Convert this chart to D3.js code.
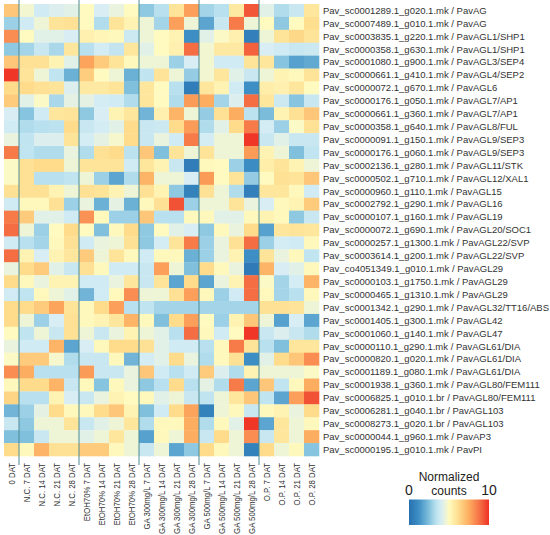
<!DOCTYPE html>
<html>
<head>
<meta charset="utf-8">
<script src="https://cdn.jsdelivr.net/npm/d3@7"></script>
<style>
  body { margin: 0; background: #fff; }
</style>
</head>
<body>
<div id="heatmap"></div>
<script>
var svgWidth = 550;
var svgHeight = 535;

// column labels (treatments)
var samples = ["0 DAT",
  "N.C. 7 DAT", "N.C. 14 DAT", "N.C. 21 DAT", "N.C. 28 DAT",
  "EtOH70% 7 DAT", "EtOH70% 14 DAT", "EtOH70% 21 DAT", "EtOH70% 28 DAT",
  "GA 300mg/L 7 DAT", "GA 300mg/L 14 DAT", "GA 300mg/L 21 DAT", "GA 300mg/L 28 DAT",
  "GA 500mg/L 7 DAT", "GA 500mg/L 14 DAT", "GA 500mg/L 21 DAT", "GA 500mg/L 28 DAT",
  "O.P. 7 DAT", "O.P. 14 DAT", "O.P. 21 DAT", "O.P. 28 DAT"];

// row labels (genes)
var genes = [
  "Pav_sc0001289.1_g020.1.mk / PavAG",
  "Pav_sc0007489.1_g010.1.mk / PavAG",
  "Pav_sc0003835.1_g220.1.mk / PavAGL1/SHP1",
  "Pav_sc0000358.1_g630.1.mk / PavAGL1/SHP1",
  "Pav_sc0001080.1_g900.1.mk / PavAGL3/SEP4",
  "Pav_sc0000661.1_g410.1.mk / PavAGL4/SEP2",
  "Pav_sc0000072.1_g670.1.mk / PavAGL6",
  "Pav_sc0000176.1_g050.1.mk / PavAGL7/AP1",
  "Pav_sc0000661.1_g360.1.mk / PavAGL7/AP1",
  "Pav_sc0000358.1_g640.1.mk / PavAGL8/FUL",
  "Pav_sc0000091.1_g150.1.mk / PavAGL9/SEP3",
  "Pav_sc0000176.1_g060.1.mk / PavAGL9/SEP3",
  "Pav_sc0002136.1_g280.1.mk / PavAGL11/STK",
  "Pav_sc0000502.1_g710.1.mk / PavAGL12/XAL1",
  "Pav_sc0000960.1_g110.1.mk / PavAGL15",
  "Pav_sc0002792.1_g290.1.mk / PavAGL16",
  "Pav_sc0000107.1_g160.1.mk / PavAGL19",
  "Pav_sc0000072.1_g690.1.mk / PavAGL20/SOC1",
  "Pav_sc0000257.1_g1300.1.mk / PavAGL22/SVP",
  "Pav_sc0003614.1_g200.1.mk / PavAGL22/SVP",
  "Pav_co4051349.1_g010.1.mk / PavAGL29",
  "Pav_sc0000103.1_g1750.1.mk / PavAGL29",
  "Pav_sc0000465.1_g1310.1.mk / PavAGL29",
  "Pav_sc0001342.1_g290.1.mk / PavAGL32/TT16/ABS",
  "Pav_sc0001405.1_g300.1.mk / PavAGL42",
  "Pav_sc0001060.1_g140.1.mk / PavAGL47",
  "Pav_sc0000110.1_g290.1.mk / PavAGL61/DIA",
  "Pav_sc0000820.1_g020.1.mk / PavAGL61/DIA",
  "Pav_sc0001189.1_g080.1.mk / PavAGL61/DIA",
  "Pav_sc0001938.1_g360.1.mk / PavAGL80/FEM111",
  "Pav_sc0006825.1_g010.1.br / PavAGL80/FEM111",
  "Pav_sc0006281.1_g040.1.br / PavAGL103",
  "Pav_sc0008273.1_g020.1.br / PavAGL103",
  "Pav_sc0000044.1_g960.1.mk / PavAP3",
  "Pav_sc0000195.1_g010.1.mk / PavPI"];

// normalized counts, one row per gene, one value per sample
var counts = [
  [6.8,4.7,3.9,4.2,4.3, 5.0,4.1,4.5,5.0, 2.7,3.3,5.9,7.8, 3.0,3.3,5.7,9.3, 4.3,3.2,3.7,5.8],
  [2.9,3.9,4.6,5.9,6.0, 5.0,3.2,5.9,5.3, 4.6,3.0,7.8,4.6, 1.8,3.7,8.6,4.6, 5.0,2.7,5.0,6.1],
  [8.2,5.0,4.3,4.3,4.1, 5.4,5.2,5.1,3.8, 4.6,5.0,5.3,1.2, 4.3,4.9,5.4,0.6, 4.6,5.9,6.3,5.9],
  [2.7,3.0,3.7,3.1,5.8, 3.3,4.0,3.6,5.8, 4.3,5.0,5.4,8.9, 4.7,5.7,5.7,9.1, 4.1,3.9,3.7,3.8],
  [6.8,6.0,6.0,5.3,4.3, 7.7,6.7,5.9,5.1, 4.6,4.6,2.9,4.1, 4.7,3.9,3.9,5.9, 5.8,2.6,1.7,1.9],
  [9.9,5.9,4.6,3.5,2.1, 6.6,5.0,4.6,2.1, 3.5,5.9,4.6,2.8, 4.7,5.8,4.3,3.7, 4.6,5.3,5.1,5.9],
  [6.2,6.2,6.0,5.9,4.2, 5.7,5.7,5.9,2.5, 5.8,5.0,3.3,0.5, 5.8,5.3,3.9,1.2, 5.5,5.4,5.8,5.0],
  [6.7,4.3,4.9,3.1,4.4, 4.4,4.0,3.9,3.2, 5.8,5.0,3.2,7.9, 7.5,3.0,4.2,8.9, 5.8,3.8,2.6,3.7],
  [4.1,2.6,3.9,5.8,5.9, 2.7,4.1,5.3,5.8, 2.2,5.4,7.3,4.6, 2.8,6.0,7.5,3.4, 2.4,5.3,6.0,6.8],
  [3.9,3.2,3.3,3.4,6.2, 3.7,4.0,4.3,6.2, 3.7,3.8,6.2,7.9, 3.2,4.3,6.2,8.6, 4.0,2.9,4.9,6.0],
  [4.5,3.5,4.2,4.2,5.9, 4.0,4.4,4.8,6.2, 3.7,4.5,3.9,8.6, 4.0,4.6,4.6,9.9, 3.7,4.3,3.7,3.7],
  [8.6,3.5,3.2,3.2,4.5, 3.2,6.0,6.2,3.4, 6.8,2.5,5.9,4.6, 5.9,4.6,4.6,7.9, 5.3,4.6,2.5,3.5],
  [4.9,6.0,6.2,6.2,4.6, 5.9,5.9,5.9,3.9, 5.8,5.3,3.7,0.5, 5.1,5.0,2.9,1.1, 5.5,5.9,5.3,4.6],
  [4.9,6.0,3.3,3.3,3.5, 4.6,2.9,1.8,3.2, 7.3,4.6,4.6,4.1, 7.9,5.0,5.9,2.8, 5.0,6.0,5.9,6.8],
  [6.0,6.0,6.0,5.3,4.6, 6.0,5.9,5.3,4.6, 6.0,5.3,2.7,0.7, 6.0,4.6,3.2,0.6, 5.8,5.8,5.1,3.9],
  [3.9,5.1,5.1,6.0,2.9, 4.5,2.1,4.4,2.1, 5.1,6.0,9.4,2.9, 4.6,4.6,5.9,4.5, 4.1,5.1,5.3,6.7],
  [8.6,6.7,4.3,4.3,3.9, 8.1,5.1,2.9,2.9, 6.8,3.3,3.3,5.1, 5.1,4.3,4.3,5.1, 5.3,5.1,2.7,3.7],
  [8.9,4.6,2.9,5.0,6.2, 5.0,2.5,5.1,6.2, 2.7,5.0,4.3,4.1, 2.7,5.1,4.5,6.2, 1.7,5.8,5.9,5.8],
  [3.9,3.3,3.0,5.1,6.0, 3.9,4.5,4.6,6.0, 2.7,4.0,5.9,8.6, 2.9,4.5,6.0,8.9, 2.9,4.0,3.9,5.1],
  [8.9,5.3,4.1,5.3,5.8, 6.7,4.6,5.9,5.1, 3.9,5.1,5.1,2.1, 2.9,4.5,5.3,1.2, 5.9,4.5,5.1,3.5],
  [4.5,6.2,6.7,4.3,3.7, 6.0,5.1,3.9,3.9, 3.7,7.8,4.6,2.5, 6.2,5.1,4.5,0.4, 7.3,4.1,4.3,5.1],
  [6.2,5.1,4.5,5.3,5.3, 3.9,3.9,4.5,5.8, 3.7,5.9,1.8,6.2, 1.8,4.5,5.3,8.9, 4.9,3.0,4.0,7.3],
  [3.9,3.5,5.1,4.6,4.3, 2.2,3.9,5.1,8.2, 4.6,4.6,6.0,7.8, 5.1,2.9,3.9,8.9, 5.1,3.0,3.3,5.1],
  [6.2,6.2,6.7,7.7,5.9, 5.1,6.2,7.8,3.3, 3.5,3.0,3.0,3.0, 3.0,3.0,3.0,3.0, 6.0,6.0,5.9,4.6],
  [6.2,4.6,2.9,4.1,6.0, 5.1,5.3,5.8,7.3, 5.1,2.5,6.2,7.8, 5.0,2.9,5.3,6.8, 4.6,1.7,4.1,1.8],
  [5.0,3.5,4.6,3.7,6.0, 4.6,3.7,4.5,5.3, 4.6,4.3,3.3,8.9, 5.1,3.9,5.0,9.9, 3.7,4.2,3.7,3.2],
  [4.5,3.9,3.9,7.3,1.8, 4.1,5.1,6.2,6.2, 6.0,4.3,3.9,3.9, 3.3,5.1,8.6,5.9, 3.3,2.5,5.8,5.8],
  [4.9,6.7,6.7,4.8,3.2, 3.7,3.7,5.1,2.2, 4.0,4.3,6.2,4.5, 3.2,5.1,6.0,1.2, 4.3,6.2,6.8,8.2],
  [8.2,7.5,3.3,3.3,3.3, 7.9,3.7,3.7,4.5, 6.8,3.9,3.3,3.9, 6.7,4.2,3.2,5.3, 4.6,4.6,4.6,4.9],
  [5.1,6.2,6.2,7.3,3.7, 5.1,2.6,5.1,4.5, 2.7,3.3,6.2,3.3, 4.4,3.2,8.6,1.8, 6.8,3.5,5.1,7.5],
  [6.4,3.3,3.3,5.3,4.1, 3.7,4.5,5.3,5.0, 5.1,4.3,4.6,3.7, 3.5,4.6,5.8,6.8, 3.5,1.8,7.8,9.4],
  [2.2,2.9,4.4,6.2,5.1, 5.1,6.2,6.8,5.3, 2.5,3.9,6.2,7.7, 0.7,4.6,5.1,3.7, 5.1,5.3,4.5,6.2],
  [3.7,2.7,4.6,4.6,5.9, 3.7,4.3,4.6,5.8, 3.2,5.1,5.1,7.5, 3.2,5.1,4.3,9.9, 1.8,5.8,4.6,5.1],
  [2.5,2.5,3.7,4.6,4.6, 4.3,4.6,5.8,4.6, 1.7,5.1,4.6,7.5, 3.7,6.2,4.6,8.2, 3.7,5.8,4.6,7.5],
  [6.2,5.1,7.3,6.0,6.0, 6.7,6.7,5.1,4.6, 3.7,4.6,1.8,2.7, 6.2,5.1,4.6,0.7, 6.2,4.6,5.1,2.6]];

// group boundaries (index of first sample after a divider)
var dividers = [1, 5, 9, 13, 17];

var legendTicks = ["0", "10"];
var legendTitle = ["Normalized", "counts"];

var svg = d3.select("#heatmap")
  .append("svg")
  .attr("width", svgWidth)
  .attr("height", svgHeight);

// Scales
var xScale = d3.scaleBand()
  .domain(samples)
  .range([4, 319]);

var yScale = d3.scaleBand()
  .domain(genes)
  .range([4, 456]);

var colorScale = d3.scaleLinear()
  .domain([0, 1.2, 2.5, 3.3, 4.1, 5, 6.2, 7.5, 8.9, 10])
  .range(["#2870b1", "#3d8ec4", "#80c0dd", "#b8e0ee", "#d8eef4", "#fffac0",
          "#fedc8c", "#fdad60", "#f46d43", "#ee3124"])
  .clamp(true);

// flatten matrix into cells
var cells = [];
counts.forEach((row, i) => {
  row.forEach((v, j) => {
    cells.push({gene: genes[i], sample: samples[j], value: v});
  });
});

svg.append("g")
  .selectAll("rect")
  .data(cells)
  .enter()
  .append("rect")
  .attr("x", d => xScale(d.sample))
  .attr("y", d => yScale(d.gene))
  .attr("width", xScale.bandwidth() + 0.3)
  .attr("height", yScale.bandwidth() + 0.3)
  .attr("fill", d => colorScale(d.value));

// dividers between treatment groups
svg.append("g")
  .selectAll("line")
  .data(dividers)
  .enter()
  .append("line")
  .attr("x1", d => xScale(samples[d]))
  .attr("x2", d => xScale(samples[d]))
  .attr("y1", 0)
  .attr("y2", 465)
  .attr("stroke", "#4d8b94")
  .attr("stroke-width", 1);

// row labels
svg.append("g")
  .selectAll("text")
  .data(genes)
  .enter()
  .append("text")
  .attr("x", 323)
  .attr("y", d => yScale(d) + yScale.bandwidth() / 2)
  .attr("dy", "0.35em")
  .attr("font-family", "'Liberation Sans', Arial, sans-serif")
  .attr("font-size", "9.5px")
  .attr("fill", "#333")
  .text(d => d);

// column labels, rotated
svg.append("g")
  .selectAll("text")
  .data(samples)
  .enter()
  .append("text")
  .attr("transform", d => `translate(${xScale(d) + xScale.bandwidth() / 2 + 3.5}, 463) rotate(-90) scale(0.82, 1)`)
  .attr("text-anchor", "end")
  .attr("font-family", "'Liberation Sans', Arial, sans-serif")
  .attr("font-size", "9.5px")
  .attr("fill", "#333")
  .text(d => d);

// Legend
var legendScale = d3.scaleLinear()
  .domain([0, 10])
  .range([409, 489]);

var defs = svg.append("defs");
var grad = defs.append("linearGradient")
  .attr("id", "legend-grad")
  .attr("x1", "0%").attr("x2", "100%")
  .attr("y1", "0%").attr("y2", "0%");

grad.selectAll("stop")
  .data(d3.range(0, 10.01, 0.5))
  .enter()
  .append("stop")
  .attr("offset", d => (d * 10) + "%")
  .attr("stop-color", d => colorScale(d));

svg.append("rect")
  .attr("x", legendScale(0))
  .attr("y", 499.5)
  .attr("width", legendScale(10) - legendScale(0))
  .attr("height", 25.5)
  .attr("fill", "url(#legend-grad)");

svg.append("g")
  .selectAll("text")
  .data(legendTitle)
  .enter()
  .append("text")
  .attr("x", legendScale(5))
  .attr("y", (d, i) => 481 + i * 13.5)
  .attr("text-anchor", "middle")
  .attr("font-family", "'Liberation Sans', Arial, sans-serif")
  .attr("font-size", "12px")
  .attr("fill", "#222")
  .text(d => d);

svg.append("g")
  .selectAll("text")
  .data(legendTicks)
  .enter()
  .append("text")
  .attr("x", d => legendScale(+d))
  .attr("y", 495)
  .attr("text-anchor", "middle")
  .attr("font-family", "'Liberation Sans', Arial, sans-serif")
  .attr("font-size", "14px")
  .attr("fill", "#222")
  .text(d => d);
</script>
</body>
</html>
